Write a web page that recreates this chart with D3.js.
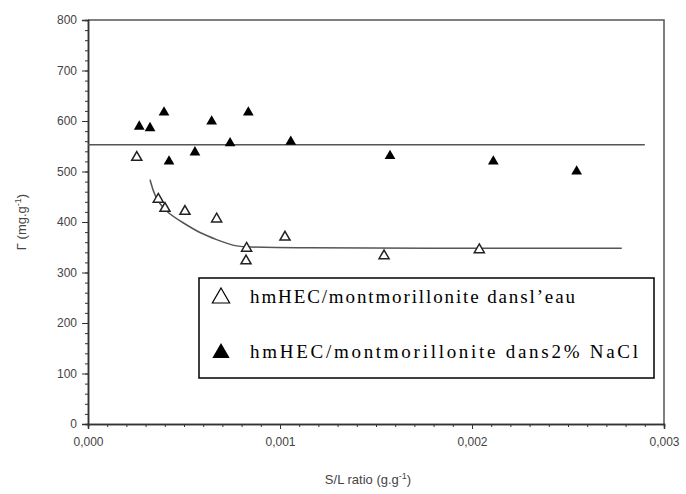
<!DOCTYPE html>
<html>
<head>
<meta charset="utf-8">
<script src="https://cdn.jsdelivr.net/npm/d3@7"></script>
<style>
  body { margin: 0; background: #fff; }
  svg { display: block; }
</style>
</head>
<body>
<svg id="chart" width="686" height="494"></svg>
<script>
// water (open triangles): S/L ratio, adsorbed amount
var waterX = [0.000254, 0.000366, 0.000401, 0.000505, 0.00067, 0.000826, 0.000823, 0.001026, 0.001542, 0.002038];
var waterY = [528, 445, 427, 421, 406, 348, 323, 370, 333, 345];

// 2% NaCl (filled triangles)
var saltX = [0.000267, 0.000323, 0.000396, 0.000422, 0.000557, 0.000644, 0.00074, 0.000835, 0.001056, 0.001573, 0.002111, 0.002545];
var saltY = [589, 586, 617, 520, 538, 599, 556, 617, 559, 531, 520, 500];

// guide curves
var waterFitX = [0.000323, 0.000345, 0.000401, 0.000497, 0.000583, 0.00067, 0.000757, 0.000826, 0.00278];
var waterFitY = [484, 452, 421, 398, 378, 365, 353, 348, 348];
var saltFitX = [0.0, 0.0029];
var saltFitY = [553, 553];

var xTicks = [0, 0.001, 0.002, 0.003];
var yTicks = [0, 100, 200, 300, 400, 500, 600, 700, 800];
var legendLabels = ["hmHEC/montmorillonite dansl\u2019eau", "hmHEC/montmorillonite dans2% NaCl"];

(function() {
  var svg = d3.select("#chart");
  var mLeft = 88, mRight = 664, mTop = 20, mBottom = 424;

  var x = d3.scaleLinear().domain([0, 0.003]).range([mLeft, mRight]);
  var y = d3.scaleLinear().domain([0, 800]).range([mBottom, mTop]);

  var fmtX = function(d) { return d3.format(".3f")(d).replace(".", ","); };
  var tickFont = "12px Arial, 'Liberation Sans', sans-serif";

  // frame (top and right)
  svg.append("path")
    .attr("d", "M" + mLeft + "," + mTop + "H" + mRight + "V" + mBottom)
    .attr("fill", "none").attr("stroke", "#555").attr("stroke-width", 1.5);

  // x axis: minor then major
  var xAxis = svg.append("g").attr("transform", "translate(0," + mBottom + ")");
  xAxis.call(d3.axisBottom(x).tickValues(d3.range(0, 31).map(function(i) { return i / 10000; }))
    .tickSize(3).tickFormat(""));
  xAxis.append("g").call(d3.axisBottom(x).tickValues(xTicks).tickSize(5).tickFormat(fmtX).tickPadding(8));
  xAxis.selectAll("path").attr("stroke", "#333").attr("stroke-width", 1.5);
  xAxis.selectAll("line").attr("stroke", "#333");
  xAxis.selectAll("text").attr("fill", "#444").style("font", tickFont);

  // y axis
  var yAxis = svg.append("g").attr("transform", "translate(" + mLeft + ",0)");
  yAxis.call(d3.axisLeft(y).tickValues(d3.range(0, 41).map(function(i) { return i * 20; }))
    .tickSize(3).tickFormat(""));
  yAxis.append("g").call(d3.axisLeft(y).tickValues(yTicks).tickSize(6).tickPadding(5));
  yAxis.selectAll("path").attr("stroke", "#333").attr("stroke-width", 1.5);
  yAxis.selectAll("line").attr("stroke", "#333");
  yAxis.selectAll("text").attr("fill", "#444").style("font", tickFont);

  // axis titles
  var xt = svg.append("text")
    .attr("x", (mLeft + mRight) / 2 - 8).attr("y", 484)
    .attr("text-anchor", "middle").attr("fill", "#444")
    .style("font", "13px Arial, 'Liberation Sans', sans-serif");
  xt.append("tspan").text("S/L ratio (g.g");
  xt.append("tspan").attr("dy", -5).style("font-size", "9px").text("-1");
  xt.append("tspan").attr("dy", 5).text(")");

  var yt = svg.append("text")
    .attr("transform", "translate(26," + ((mTop + mBottom) / 2) + ") rotate(-90)")
    .attr("text-anchor", "middle").attr("fill", "#444")
    .style("font", "13px Arial, 'Liberation Sans', sans-serif");
  yt.append("tspan").text("\u0393 (mg.g");
  yt.append("tspan").attr("dy", -5).style("font-size", "9px").text("-1");
  yt.append("tspan").attr("dy", 5).text(")");

  // guide lines
  var line = d3.line().x(function(d) { return x(d[0]); }).y(function(d) { return y(d[1]); });
  svg.append("path")
    .datum(d3.zip(saltFitX, saltFitY))
    .attr("d", line)
    .attr("fill", "none").attr("stroke", "#555").attr("stroke-width", 1.5);
  svg.append("path")
    .datum(d3.zip(waterFitX, waterFitY))
    .attr("d", line.curve(d3.curveBasis))
    .attr("fill", "none").attr("stroke", "#555").attr("stroke-width", 1.5);

  // markers
  var tri = d3.symbol().type(d3.symbolTriangle).size(50);
  var triOpen = d3.symbol().type(d3.symbolTriangle).size(44);

  svg.selectAll(".water").data(d3.zip(waterX, waterY))
    .enter().append("path")
    .attr("class", "water")
    .attr("d", triOpen)
    .attr("transform", function(d) { return "translate(" + x(d[0]) + "," + y(d[1]) + ")"; })
    .attr("fill", "#fff").attr("stroke", "#222").attr("stroke-width", 1.5);

  svg.selectAll(".salt").data(d3.zip(saltX, saltY))
    .enter().append("path")
    .attr("class", "salt")
    .attr("d", tri)
    .attr("transform", function(d) { return "translate(" + x(d[0]) + "," + y(d[1]) + ")"; })
    .attr("fill", "#000");

  // legend
  var legend = svg.append("g");
  legend.append("rect")
    .attr("x", 199).attr("y", 278).attr("width", 455).attr("height", 100)
    .attr("fill", "#fff").attr("stroke", "#000").attr("stroke-width", 1.5);

  var rowY = [297, 352];
  var rowLen = [325, 388];
  legend.selectAll(".lg-sym").data(legendLabels)
    .enter().append("path")
    .attr("d", d3.symbol().type(d3.symbolTriangle).size(130))
    .attr("transform", function(d, i) { return "translate(221," + (rowY[i] + 1) + ")"; })
    .attr("fill", function(d, i) { return i ? "#000" : "#fff"; })
    .attr("stroke", "#000").attr("stroke-width", function(d, i) { return i ? 0 : 1.2; });

  legend.selectAll(".lg-text").data(legendLabels)
    .enter().append("text")
    .attr("x", 250).attr("y", function(d, i) { return rowY[i] + 6; })
    .attr("textLength", function(d, i) { return rowLen[i]; })
    .attr("lengthAdjust", "spacing")
    .attr("fill", "#000")
    .style("font", "19px 'Liberation Serif', 'DejaVu Serif', serif")
    .text(function(d) { return d; });
})();
</script>
</body>
</html>
